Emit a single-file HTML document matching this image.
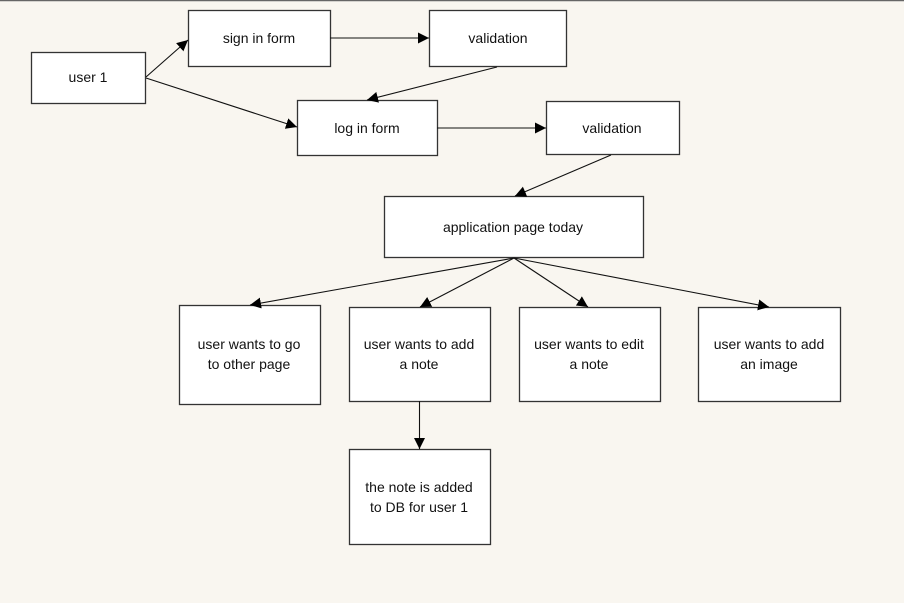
<!DOCTYPE html>
<html><head><meta charset="utf-8"><style>
html,body{margin:0;padding:0;background:#f9f6f0;}
svg{display:block;}
text{font-family:"Liberation Sans",Arial,sans-serif;font-size:14px;fill:#111;text-anchor:middle;}
rect{fill:#fff;stroke:#333;stroke-width:1.3;}
line{stroke:#111;stroke-width:1.1;}
</style></head><body>
<svg width="904" height="603" viewBox="0 0 904 603" xmlns="http://www.w3.org/2000/svg">
<defs><marker id="a" viewBox="0 0 10 10" refX="10" refY="5" markerWidth="11" markerHeight="11" markerUnits="userSpaceOnUse" orient="auto"><path d="M0,0 L10,5 L0,10 z" fill="#000"/></marker></defs>
<rect x="0" y="0" width="904" height="603" style="fill:#f9f6f0;stroke:none"/>
<line x1="0" y1="0.5" x2="904" y2="0.5" style="stroke:#666;stroke-width:1.5"/>
<rect x="31.5" y="52.5" width="114" height="51"/><text x="88" y="82">user 1</text>
<rect x="188.5" y="10.5" width="142" height="56"/><text x="259" y="43">sign in form</text>
<rect x="429.5" y="10.5" width="137" height="56"/><text x="498" y="43">validation</text>
<rect x="297.5" y="100.5" width="140" height="55"/><text x="367" y="133">log in form</text>
<rect x="546.5" y="101.5" width="133" height="53"/><text x="612" y="133">validation</text>
<rect x="384.5" y="196.5" width="259" height="61"/><text x="513" y="232">application page today</text>
<rect x="179.5" y="305.5" width="141" height="99"/><text x="249" y="349">user wants to go</text><text x="249" y="369">to other page</text>
<rect x="349.5" y="307.5" width="141" height="94"/><text x="419" y="349">user wants to add</text><text x="419" y="369">a note</text>
<rect x="519.5" y="307.5" width="141" height="94"/><text x="589" y="349">user wants to edit</text><text x="589" y="369">a note</text>
<rect x="698.5" y="307.5" width="142" height="94"/><text x="769" y="349">user wants to add</text><text x="769" y="369">an image</text>
<rect x="349.5" y="449.5" width="141" height="95"/><text x="419" y="492">the note is added</text><text x="419" y="512">to DB for user 1</text>
<line x1="146" y1="77" x2="188" y2="40" marker-end="url(#a)"/>
<line x1="146" y1="78" x2="297" y2="127" marker-end="url(#a)"/>
<line x1="330" y1="38" x2="429" y2="38" marker-end="url(#a)"/>
<line x1="497" y1="67" x2="367" y2="100" marker-end="url(#a)"/>
<line x1="437" y1="128" x2="546" y2="128" marker-end="url(#a)"/>
<line x1="611" y1="155" x2="515" y2="196" marker-end="url(#a)"/>
<line x1="514" y1="258" x2="250" y2="305" marker-end="url(#a)"/>
<line x1="514" y1="258" x2="420" y2="307" marker-end="url(#a)"/>
<line x1="514" y1="258" x2="588" y2="307" marker-end="url(#a)"/>
<line x1="514" y1="258" x2="769" y2="307" marker-end="url(#a)"/>
<line x1="419.5" y1="401" x2="419.5" y2="449" marker-end="url(#a)"/>
</svg>
</body></html>
